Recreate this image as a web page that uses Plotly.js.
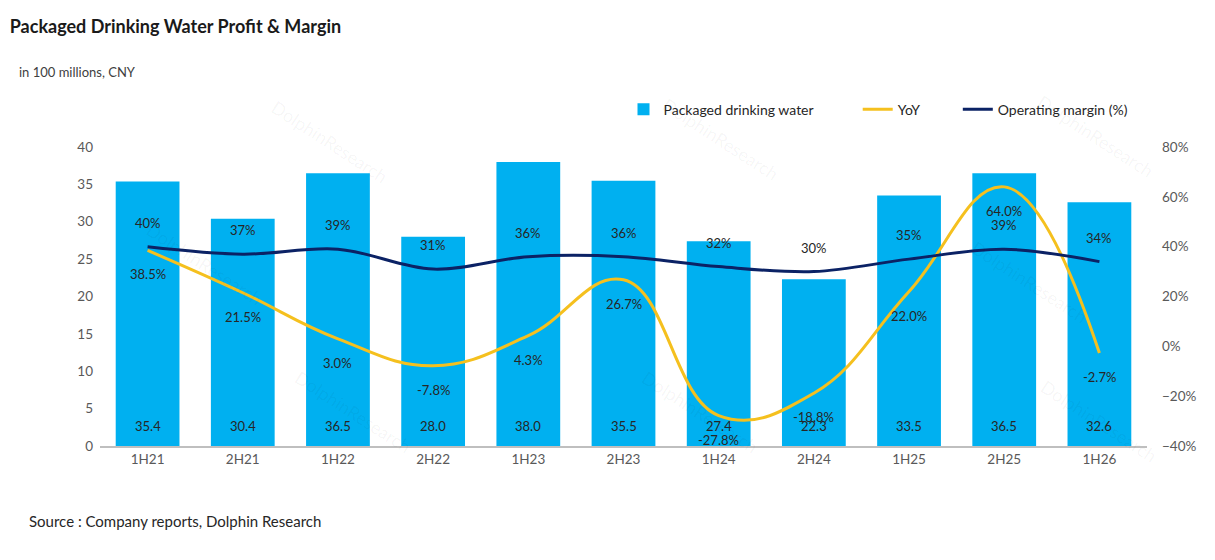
<!DOCTYPE html>
<html>
<head>
<meta charset="utf-8">
<script src="https://cdn.plot.ly/plotly-3.0.1.min.js"></script>
<style>
  html, body { margin: 0; padding: 0; background: #fff; }
  #chart { width: 1215px; height: 560px; }
</style>
</head>
<body>
<div id="chart"></div>
<script>
// half-year periods
const periods = ["1H21", "2H21", "1H22", "2H22", "1H23", "2H23", "1H24", "2H24", "1H25", "2H25", "1H26"];
// profit, 100m CNY
const profit = [35.4, 30.4, 36.5, 28.0, 38.0, 35.5, 27.4, 22.3, 33.5, 36.5, 32.6];
// YoY growth, %
const yoy = [38.5, 21.5, 3.0, -7.8, 4.3, 26.7, -27.8, -18.8, 22.0, 64.0, -2.7];
// operating margin, %
const margin = [40, 37, 39, 31, 36, 36, 32, 30, 35, 39, 34];

const BLUE = "#00B0F0", GOLD = "#F5C01E", NAVY = "#0B2265";
const FONT = "Lato, 'Open Sans', sans-serif";

const data = [
    {
        x: periods, y: profit, type: "bar", name: "Packaged drinking water",
        marker: {color: BLUE}, hoverinfo: "none", legend: "legend"
    },
    {
        x: periods, y: yoy, yaxis: "y2", type: "scatter", mode: "lines", name: "YoY",
        line: {color: GOLD, width: 3, shape: "spline", smoothing: 1.2}, hoverinfo: "none", legend: "legend2"
    },
    {
        x: periods, y: margin, yaxis: "y2", type: "scatter", mode: "lines", name: "Operating margin (%)",
        line: {color: NAVY, width: 3, shape: "spline", smoothing: 1}, hoverinfo: "none", legend: "legend3"
    }
];

const labelFont = {family: FONT, size: 13, color: "#262626"};
let annotations = [];
periods.forEach((p, i) => {
    annotations.push({x: p, y: 0, xref: "x", yref: "y", text: profit[i].toFixed(1),
        showarrow: false, yshift: 20, font: labelFont});
    annotations.push({x: p, y: yoy[i], xref: "x", yref: "y2", text: yoy[i].toFixed(1) + "%",
        showarrow: false, yshift: -24, font: labelFont});
    annotations.push({x: p, y: margin[i], xref: "x", yref: "y2", text: margin[i] + "%",
        showarrow: false, yshift: 24, font: labelFont});
});

// subtitle + source
annotations.push({xref: "paper", yref: "paper", x: -0.079, y: 1.252, xanchor: "left", yanchor: "middle",
    text: "in 100 millions, CNY", showarrow: false, font: {family: FONT, size: 13, color: "#404040"}});
annotations.push({xref: "paper", yref: "paper", x: -0.070, y: -0.25, xanchor: "left", yanchor: "middle",
    text: "Source : Company reports, Dolphin Research", showarrow: false, font: {family: FONT, size: 15, color: "#262626"}});

// faint watermarks (paper coords)
const wm = [[0.158, 1.18], [0.593, 1.19], [1.013, 1.2], [0.038, 0.61], [0.95, 0.55], [0.18, -0.05], [0.573, -0.05], [1.016, -0.08]];
wm.forEach(w => annotations.push({xref: "paper", yref: "paper", x: w[0], y: w[1], text: "DolphinResearch",
    showarrow: false, textangle: 33, font: {family: FONT, size: 18, color: "rgba(0,0,0,0.045)"}}));

const legendBase = {
    orientation: "h", y: 1.125, xanchor: "left", yanchor: "middle",
    font: {family: FONT, size: 14, color: "#262626"}, bgcolor: "rgba(0,0,0,0)"
};

const layout = {
    width: 1215,
    height: 560,
    paper_bgcolor: "#fff",
    plot_bgcolor: "rgba(0,0,0,0)",
    font: {family: FONT, size: 13, color: "#595959"},
    title: {
        text: "<b>Packaged Drinking Water Profit & Margin</b>",
        xref: "container", yref: "container", x: 0.008, y: 0.953,
        xanchor: "left", yanchor: "middle",
        font: {family: FONT, size: 18, color: "#1a1a1a"}
    },
    margin: {l: 100, r: 68, t: 147, b: 114},
    bargap: 0.33,
    showlegend: true,
    legend: Object.assign({}, legendBase, {x: 0.5}),
    legend2: Object.assign({}, legendBase, {x: 0.7237}),
    legend3: Object.assign({}, legendBase, {x: 0.8193}),
    xaxis: {
        type: "category", showgrid: false, zeroline: false,
        showline: true, linecolor: "#BFBFBF", linewidth: 1.5,
        ticks: "", tickfont: {family: FONT, size: 13.5, color: "#595959"}
    },
    yaxis: {
        range: [0, 40], dtick: 5, showgrid: false, zeroline: false, showline: false,
        ticks: "", ticklabelstandoff: 6, tickfont: {family: FONT, size: 13.5, color: "#595959"}
    },
    yaxis2: {
        overlaying: "y", side: "right", range: [-40, 80], dtick: 20, ticksuffix: "%",
        showgrid: false, zeroline: false, showline: false, ticks: "", ticklabelstandoff: 14,
        tickfont: {family: FONT, size: 13.5, color: "#595959"}
    },
    annotations: annotations
};

Plotly.newPlot("chart", data, layout, {displayModeBar: false, staticPlot: true});
</script>
</body>
</html>
